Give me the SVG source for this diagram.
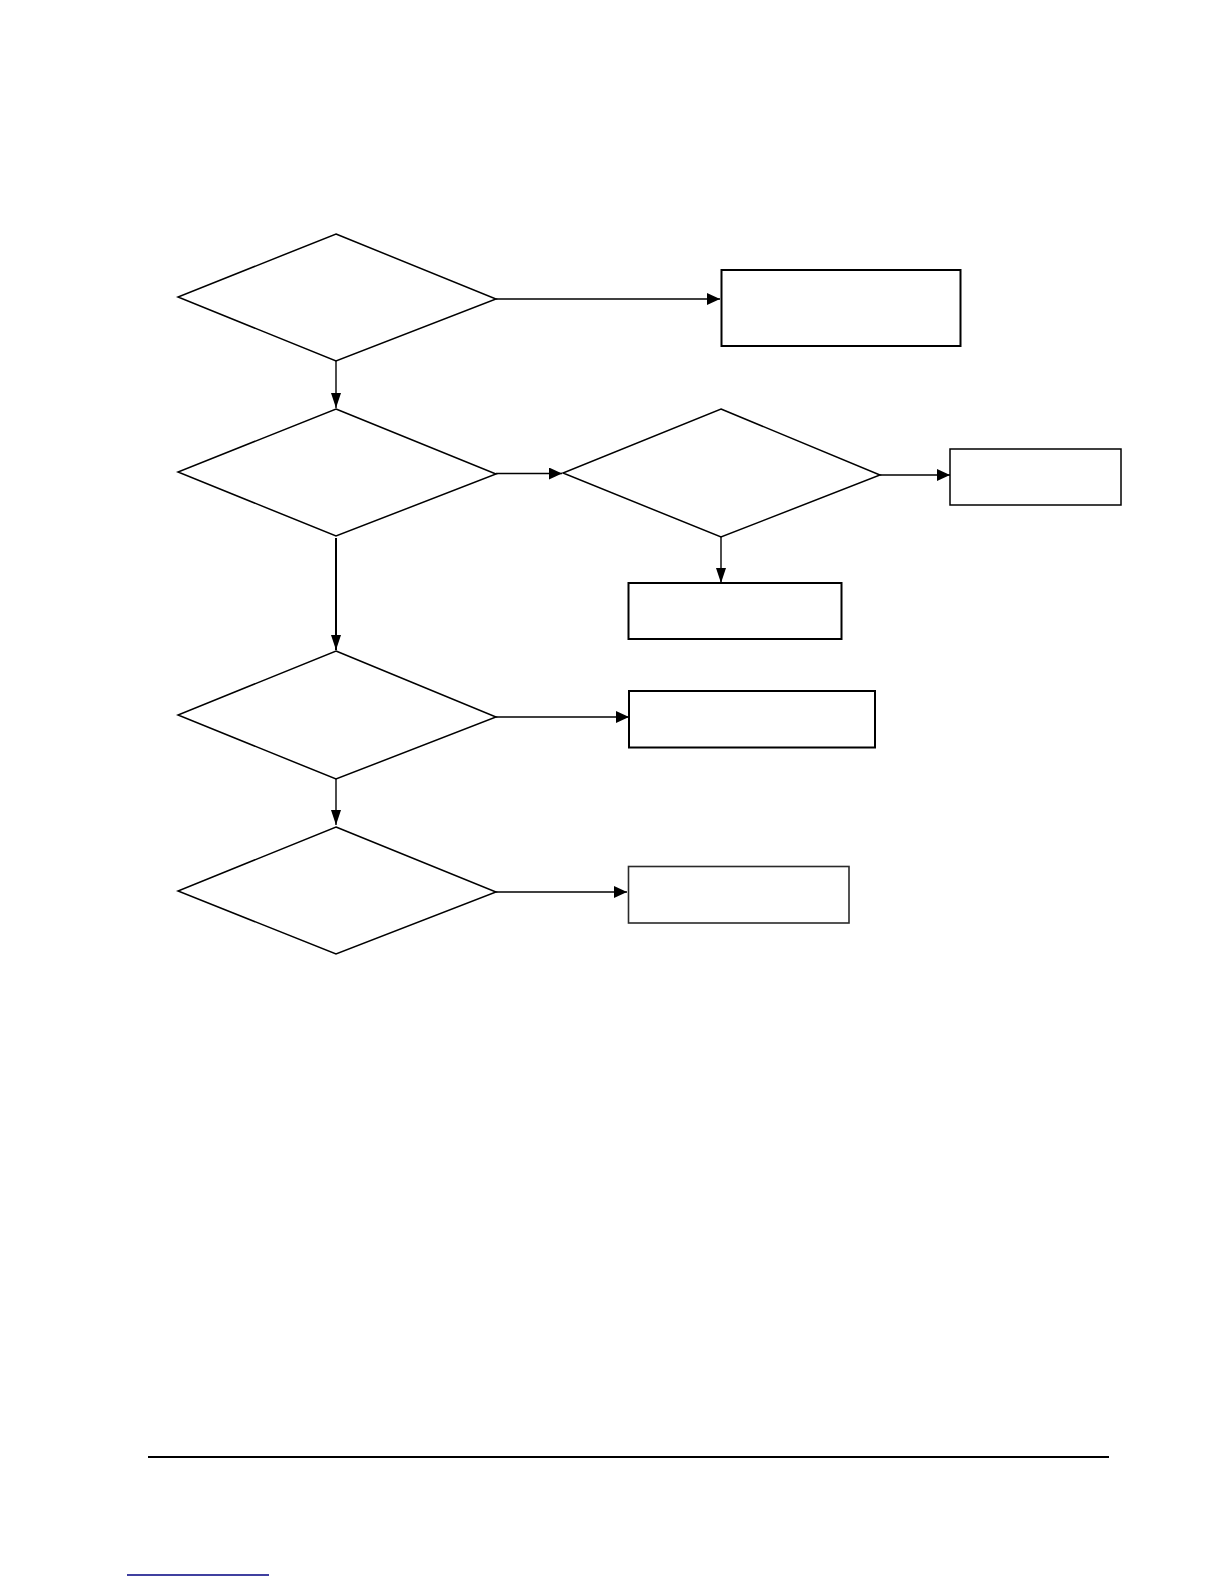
<svg xmlns="http://www.w3.org/2000/svg" width="1224" height="1584" viewBox="0 0 1224 1584">
  <style>
    .dia { fill: #ffffff; stroke: #000000; stroke-width: 1.5; stroke-linejoin: miter; }
    .box { fill: #ffffff; stroke: #000000; stroke-width: 2; }
    .box-thin { fill: #ffffff; stroke: #000000; stroke-width: 1.5; }
    .box-grey { fill: #ffffff; stroke: #2a2a2a; stroke-width: 1.6; }
    .conn { fill: none; stroke: #000000; stroke-width: 1.4; }
    .conn-bold { fill: none; stroke: #000000; stroke-width: 2; }
  </style>
  <defs>
    <marker id="arrowR" markerUnits="userSpaceOnUse" markerWidth="13" markerHeight="12" refX="13" refY="6" orient="auto">
      <path d="M0,0 L13,6 L0,12 z" fill="#000000"/>
    </marker>
    <marker id="arrowD" markerUnits="userSpaceOnUse" markerWidth="15" markerHeight="10" refX="15" refY="5" orient="auto">
      <path d="M0,0 L15,5 L0,10 z" fill="#000000"/>
    </marker>
  </defs>
  <rect x="0" y="0" width="1224" height="1584" fill="#ffffff"/>

  <g id="connectors">
    <line class="conn" x1="496" y1="299" x2="720" y2="299" marker-end="url(#arrowR)"/>
    <line class="conn" x1="336" y1="361" x2="336" y2="408" marker-end="url(#arrowD)"/>
    <line class="conn" x1="496" y1="473.5" x2="562" y2="473.5" marker-end="url(#arrowR)"/>
    <line class="conn" x1="880" y1="475" x2="950" y2="475" marker-end="url(#arrowR)"/>
    <line class="conn" x1="721" y1="537" x2="721" y2="583" marker-end="url(#arrowD)"/>
    <line class="conn-bold" x1="336" y1="538" x2="336" y2="650" marker-end="url(#arrowD)"/>
    <line class="conn" x1="496" y1="717" x2="629" y2="717" marker-end="url(#arrowR)"/>
    <line class="conn" x1="336" y1="779" x2="336" y2="825" marker-end="url(#arrowD)"/>
    <line class="conn" x1="496" y1="892" x2="627" y2="892" marker-end="url(#arrowR)"/>
  </g>

  <g id="decision1">
    <polygon class="dia" points="336,234 496,299 336,361 178,297"/>
  </g>
  <g id="result1">
    <rect class="box" x="721.5" y="270" width="239" height="76"/>
  </g>

  <g id="decision2">
    <polygon class="dia" points="336,409 496,474 336,536 178,472"/>
  </g>
  <g id="decision3">
    <polygon class="dia" points="721,409 880,475 721,537 563,473"/>
  </g>
  <g id="result2">
    <rect class="box-thin" x="950" y="449" width="171" height="56"/>
  </g>
  <g id="result3">
    <rect class="box" x="628.5" y="583" width="213" height="56"/>
  </g>

  <g id="decision4">
    <polygon class="dia" points="336,651 496,717 336,779 178,715"/>
  </g>
  <g id="result4">
    <rect class="box" x="629" y="691" width="246" height="56.5"/>
  </g>

  <g id="decision5">
    <polygon class="dia" points="336,827 496,892 336,954 178,891"/>
  </g>
  <g id="result5">
    <rect class="box-grey" x="628.5" y="866.5" width="220.5" height="56.5"/>
  </g>

  <line x1="148" y1="1457" x2="1109" y2="1457" stroke="#000000" stroke-width="2.2"/>
  <line x1="127" y1="1575" x2="269" y2="1575" stroke="#000080" stroke-width="1.6"/>
</svg>
